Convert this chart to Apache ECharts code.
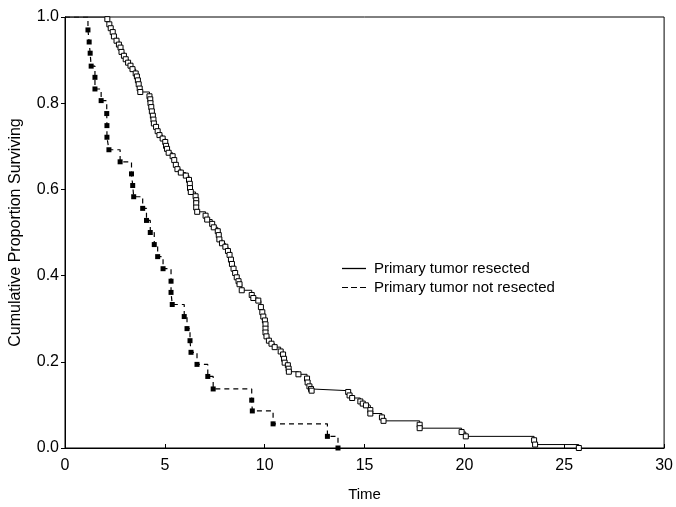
<!DOCTYPE html>
<html>
<head>
<meta charset="utf-8">
<script src="https://cdn.jsdelivr.net/npm/echarts@6/dist/echarts.min.js"></script>
<style>
  html, body { margin: 0; padding: 0; background: #fff; }
  #chart { width: 676px; height: 507px; }
</style>
</head>
<body>
<div id="chart"></div>
<script>
// Kaplan-Meier steps: event time (x) and survival after the drop (y)
const resectedTime = [
  2.12, 2.22, 2.29, 2.39, 2.45, 2.58, 2.70, 2.78, 2.83, 2.95, 3.04, 3.16, 3.28, 3.38, 3.54, 3.60, 3.65, 3.69, 3.74, 3.77,
  4.23, 4.27, 4.28, 4.32, 4.35, 4.40, 4.43, 4.45, 4.56, 4.64, 4.73, 4.89, 5.02, 5.06, 5.11, 5.19, 5.39,
  5.47, 5.55, 5.63, 5.80, 6.05, 6.21, 6.25, 6.26, 6.30,
  6.54, 6.57, 6.57, 6.57, 6.62,
  7.04, 7.12, 7.37, 7.45, 7.65, 7.70, 7.73, 7.86, 8.03, 8.16, 8.24, 8.31, 8.36, 8.44, 8.52, 8.60, 8.69, 8.74, 8.85,
  9.35, 9.43, 9.68,
  9.81, 9.88, 9.93, 10.01, 10.04, 10.04, 10.04, 10.09, 10.21, 10.34, 10.50,
  10.80, 10.92, 10.97, 11.00, 11.16, 11.20, 11.21, 11.69,
  12.12, 12.15, 12.24, 12.32, 12.35,
  14.18, 14.25, 14.38, 14.79, 14.91, 15.07, 15.29, 15.29,
  15.87, 15.95, 17.76, 17.76, 19.86, 20.07, 23.49, 23.54, 25.73
]
const resectedSurv = [
  0.995, 0.983, 0.974, 0.965, 0.955, 0.945, 0.936, 0.929, 0.919, 0.910, 0.902, 0.894, 0.887, 0.879, 0.869, 0.862, 0.853, 0.844, 0.834, 0.826,
  0.816, 0.809, 0.800, 0.791, 0.781, 0.771, 0.762, 0.753, 0.745, 0.735, 0.726, 0.718, 0.710, 0.701, 0.694, 0.685, 0.677,
  0.668, 0.657, 0.647, 0.639, 0.632, 0.622, 0.613, 0.603, 0.594,
  0.584, 0.575, 0.568, 0.558, 0.548,
  0.539, 0.530, 0.520, 0.512, 0.503, 0.494, 0.484, 0.475, 0.467, 0.457, 0.448, 0.437, 0.427, 0.416, 0.406, 0.396, 0.387, 0.380, 0.366,
  0.355, 0.348, 0.342,
  0.327, 0.315, 0.305, 0.296, 0.287, 0.277, 0.268, 0.259, 0.249, 0.242, 0.234,
  0.224, 0.217, 0.207, 0.198, 0.192, 0.184, 0.177, 0.171,
  0.161, 0.152, 0.143, 0.137, 0.133,
  0.130, 0.122, 0.116, 0.108, 0.103, 0.099, 0.088, 0.080,
  0.071, 0.063, 0.054, 0.046, 0.037, 0.027, 0.018, 0.008, 0
]
const notResectedTime = [
  1.15, 1.21, 1.26, 1.31, 1.50, 1.50, 1.81, 2.09, 2.10, 2.10, 2.20, 2.76,
  3.33, 3.39, 3.44, 3.89, 4.08, 4.27, 4.47, 4.64, 4.91, 5.31, 5.31, 5.37,
  5.97, 6.11, 6.26, 6.31, 6.61, 7.15, 7.42, 9.35, 9.38, 10.42, 13.14, 13.67
]
const notResectedSurv = [
  0.970, 0.942, 0.916, 0.886, 0.860, 0.833, 0.806, 0.776, 0.748, 0.721, 0.692, 0.664,
  0.636, 0.609, 0.583, 0.556, 0.528, 0.500, 0.472, 0.444, 0.416, 0.387, 0.361, 0.333,
  0.305, 0.277, 0.249, 0.222, 0.194, 0.166, 0.137, 0.111, 0.086, 0.056, 0.027, 0
]
const seriesNames = ["Primary tumor resected", "Primary tumor not resected"]
const xTicks = [0, 5, 10, 15, 20, 25, 30]
const yTicks = [0, 0.2, 0.4, 0.6, 0.8, 1.0]

const font = "'Liberation Sans', Arial, sans-serif"

// curve starts at S=1 at time 0, no marker there
const kmData = (times, surv) => [
  { value: [0, 1], symbol: "none" },
  ...times.map((t, i) => [t, surv[i]]),
]

const chart = echarts.init(document.getElementById("chart"))
chart.setOption({
  animation: false,
  textStyle: { fontFamily: font, color: "#000" },
  grid: {
    left: 59, right: 10, top: 17, bottom: 50,
    show: true, borderColor: "#000", borderWidth: 1,
  },
  legend: {
    orient: "vertical",
    left: 342,
    top: 261,
    padding: 0,
    itemWidth: 24,
    itemHeight: 1.3,
    itemGap: 4,
    itemStyle: { color: "#000", borderWidth: 0 },
    textStyle: { fontSize: 15, color: "#000", fontFamily: font, padding: [0, 0, 0, 3] },
    data: [
      { name: seriesNames[0], icon: "rect" },
      { name: seriesNames[1], icon: "path://M0,0h6v1h-6zM9,0h6v1h-6zM18,0h6v1h-6z" },
    ],
  },
  xAxis: {
    type: "value",
    min: xTicks[0],
    max: xTicks[xTicks.length - 1],
    interval: 5,
    name: "Time",
    nameLocation: "middle",
    nameGap: 39,
    nameTextStyle: { fontSize: 15, color: "#000" },
    axisLine: { onZero: false, lineStyle: { color: "#000", width: 1 } },
    axisTick: { inside: true, length: 4, lineStyle: { color: "#000" } },
    axisLabel: { fontSize: 16, color: "#000", margin: 10 },
    splitLine: { show: false },
  },
  yAxis: {
    type: "value",
    min: yTicks[0],
    max: yTicks[yTicks.length - 1],
    interval: 0.2,
    name: "Cumulative Proportion Surviving",
    nameLocation: "middle",
    nameGap: 41,
    nameTextStyle: { fontSize: 16, color: "#000" },
    axisLine: { lineStyle: { color: "#000", width: 1 } },
    axisTick: { length: 4, lineStyle: { color: "#000" } },
    axisLabel: { fontSize: 16, color: "#000", margin: 6, formatter: (v) => v.toFixed(1) },
    splitLine: { show: false },
  },
  series: [
    {
      name: seriesNames[0],
      type: "line",
      step: "end",
      data: kmData(resectedTime, resectedSurv),
      symbol: "rect",
      symbolSize: 5,
      itemStyle: { color: "#fff", borderColor: "#000", borderWidth: 1 },
      lineStyle: { color: "#000", width: 1 },
      z: 3,
    },
    {
      name: seriesNames[1],
      type: "line",
      step: "end",
      data: kmData(notResectedTime, notResectedSurv),
      symbol: "rect",
      symbolSize: 5,
      itemStyle: { color: "#000", borderColor: "#000", borderWidth: 0 },
      lineStyle: { color: "#000", width: 1.2, type: [5, 4] },
      z: 2,
    },
  ],
})
</script>
</body>
</html>
